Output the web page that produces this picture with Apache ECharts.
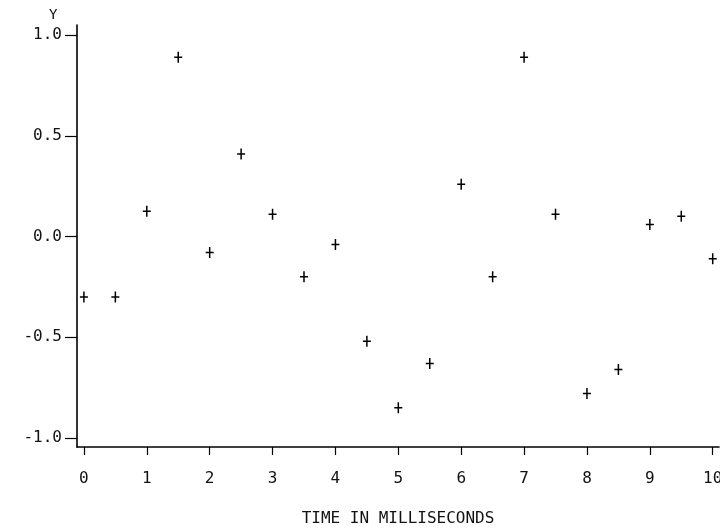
<!DOCTYPE html>
<html>
<head>
<meta charset="utf-8">
<script src="https://cdn.jsdelivr.net/npm/echarts@6/dist/echarts.min.js"></script>
<style>
html,body{margin:0;padding:0;background:#fff;}
#chart{width:720px;height:529px;}
</style>
</head>
<body>
<div id="chart"></div>
<script>
var times = [0, 0.5, 1, 1.5, 2, 2.5, 3, 3.5, 4, 4.5, 5, 5.5, 6, 6.5, 7, 7.5, 8, 8.5, 9, 9.5, 10];
var yValues = [-0.30, -0.30, 0.125, 0.89, -0.08, 0.41, 0.11, -0.20, -0.04, -0.52, -0.85, -0.63, 0.26, -0.20, 0.89, 0.11, -0.78, -0.66, 0.06, 0.10, -0.11];
var xTicks = [0, 1, 2, 3, 4, 5, 6, 7, 8, 9, 10];
var yTicks = [-1.0, -0.5, 0.0, 0.5, 1.0];
var xTitle = 'TIME IN MILLISECONDS';
var yTitle = 'Y';

var font = '"DejaVu Sans Mono", "Liberation Mono", monospace';
var chart = echarts.init(document.getElementById('chart'));
var points = times.map(function (t, i) { return [t, yValues[i]]; });

chart.setOption({
  animation: false,
  backgroundColor: '#fff',
  grid: { left: 77, right: 1, top: 25, bottom: 82, containLabel: false, outerBoundsMode: 'none' },
  xAxis: {
    type: 'value',
    min: -0.11,
    max: 10.1,
    name: xTitle,
    nameLocation: 'middle',
    nameGap: 64,
    nameTextStyle: { fontFamily: font, fontSize: 16, color: '#111' },
    axisLine: { onZero: false, lineStyle: { color: '#000', width: 1.6 } },
    axisTick: { show: true, inside: false, length: 8, customValues: xTicks, lineStyle: { color: '#000', width: 1.2 } },
    axisLabel: { customValues: xTicks, margin: 24, fontFamily: font, fontSize: 16, color: '#111',
      formatter: function (v) { return String(Math.round(v)); } },
    splitLine: { show: false }
  },
  yAxis: {
    type: 'value',
    min: -1.045,
    max: 1.05,
    axisLine: { onZero: false, lineStyle: { color: '#000', width: 1.6 } },
    axisTick: { show: true, inside: false, length: 12, customValues: yTicks, lineStyle: { color: '#000', width: 1.2 } },
    axisLabel: { customValues: yTicks, margin: 15, fontFamily: font, fontSize: 16, color: '#111',
      formatter: function (v) { return v.toFixed(1); } },
    splitLine: { show: false }
  },
  graphic: [{
    type: 'text',
    left: 49,
    top: 8,
    style: { text: yTitle, font: '14px ' + font, fill: '#111' }
  }],
  series: [{
    type: 'scatter',
    data: points,
    symbol: 'path://M3.25,0h1.5v11h-1.5zM0,4.75h8v1.5h-8z',
    symbolSize: [8, 11],
    itemStyle: { color: '#000', opacity: 1 }
  }]
});
</script>
</body>
</html>
